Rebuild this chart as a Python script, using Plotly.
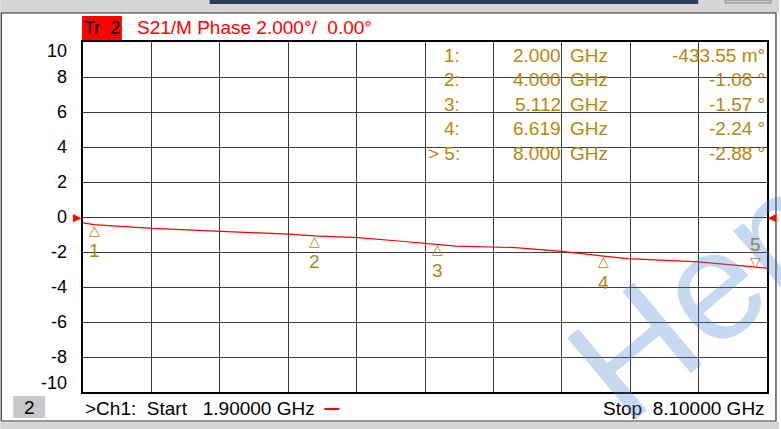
import plotly.graph_objects as go

# ---- data ----
freq_ghz = [1.9, 2.0, 2.53, 3.15, 3.76, 4.0, 4.39, 4.76, 5.112, 5.28, 5.82, 6.24, 6.619, 6.84, 7.48, 8.0, 8.1]
phase_deg = [-0.33, -0.43, -0.65, -0.80, -0.98, -1.08, -1.18, -1.37, -1.57, -1.66, -1.75, -1.96, -2.24, -2.38, -2.56, -2.88, -2.92]

marker_ids = ["1", "2", "3", "4", "5"]
marker_freq = [2.0, 4.0, 5.112, 6.619, 8.0]
marker_val = [-0.43355, -1.08, -1.57, -2.24, -2.88]
marker_freq_txt = ["2.000", "4.000", "5.112", "6.619", "8.000"]
marker_val_txt = ["-433.55 m°", "-1.08 °", "-1.57 °", "-2.24 °", "-2.88 °"]
marker_row_lbl = ["1:", "2:", "3:", "4:", "> 5:"]

y_ticks = [10, 8, 6, 4, 2, 0, -2, -4, -6, -8, -10]
x_start, x_stop = 1.9, 8.1

FONT = "Liberation Sans, Arial, sans-serif"
GOLD = "#b8860b"
RED = "#ff0000"
W, H = 781, 429
L, R, T, B = 83, 769, 42, 392


def px(x):
    return (x - L) / (R - L)


def py(y):
    return (B - y) / (B - T)


fig = go.Figure()
fig.add_trace(go.Scatter(x=freq_ghz, y=phase_deg, mode="lines",
                         line=dict(color=RED, width=1.2), hoverinfo="skip",
                         showlegend=False))

ann = []
# y tick labels
for v in y_ticks:
    ys = -9 if v == 10 else (9 if v == -10 else 0)
    ann.append(dict(xref="paper", x=0, xanchor="right", xshift=-14, yref="y", y=v,
                    yshift=ys, text=str(v), showarrow=False,
                    font=dict(family=FONT, size=18, color="#000000")))

# marker triangles + labels
for mid, f, v in zip(marker_ids, marker_freq, marker_val):
    if mid == "5":
        ann.append(dict(x=f, y=v, text="▽", showarrow=False, yshift=5, borderpad=0,
                        font=dict(family="DejaVu Sans", size=14, color=GOLD)))
        ann.append(dict(x=f, y=v, text=mid, showarrow=False, yshift=23, borderpad=0,
                        font=dict(family=FONT, size=19, color=GOLD)))
    else:
        ann.append(dict(x=f, y=v, text="△", showarrow=False, yshift=-5, borderpad=0,
                        font=dict(family="DejaVu Sans", size=14, color=GOLD)))
        ann.append(dict(x=f, y=v, text=mid, showarrow=False, yshift=-26, borderpad=0,
                        font=dict(family=FONT, size=19, color=GOLD)))

# reference arrows at 0
ann.append(dict(xref="paper", x=0, xanchor="right", xshift=1, y=0, text="▶",
                showarrow=False, font=dict(family="DejaVu Sans", size=11, color=RED)))
ann.append(dict(xref="paper", x=1, xanchor="left", xshift=-1, y=0, text="◀",
                showarrow=False, font=dict(family="DejaVu Sans", size=11, color=RED)))

# marker table
row_y0 = 55
row_dy = 24.5
for i in range(5):
    yy = py(row_y0 + i * row_dy)
    ann.append(dict(xref="paper", yref="paper", x=px(463), y=yy, xanchor="right",
                    yanchor="middle", text=marker_row_lbl[i], showarrow=False,
                    font=dict(family=FONT, size=19, color=GOLD)))
    ann.append(dict(xref="paper", yref="paper", x=px(564), y=yy, xanchor="right",
                    yanchor="middle", text=marker_freq_txt[i], showarrow=False,
                    font=dict(family=FONT, size=19, color=GOLD)))
    ann.append(dict(xref="paper", yref="paper", x=px(569), y=yy, xanchor="left",
                    yanchor="middle", text="GHz", showarrow=False,
                    font=dict(family=FONT, size=19, color=GOLD)))
    ann.append(dict(xref="paper", yref="paper", x=px(769), y=yy, xanchor="right",
                    yanchor="middle", text=marker_val_txt[i], showarrow=False,
                    font=dict(family=FONT, size=19, color=GOLD)))

# header
ann.append(dict(xref="paper", yref="paper", x=px(102), y=py(28), xanchor="center",
                yanchor="middle", text="Tr  2", showarrow=False,
                font=dict(family=FONT, size=18, color="#000000")))
ann.append(dict(xref="paper", yref="paper", x=px(135), y=py(28), xanchor="left",
                yanchor="middle", text="S21/M Phase 2.000°/  0.00°", showarrow=False,
                font=dict(family=FONT, size=19, color=RED)))

# footer
ann.append(dict(xref="paper", yref="paper", x=px(29), y=py(407), xanchor="center",
                yanchor="middle", text="2", showarrow=False,
                font=dict(family=FONT, size=19, color="#000000")))
ann.append(dict(xref="paper", yref="paper", x=px(83), y=py(409), xanchor="left",
                yanchor="middle", text=">Ch1:  Start   %.5f GHz" % x_start, showarrow=False,
                font=dict(family=FONT, size=19, color="#000000")))
ann.append(dict(xref="paper", yref="paper", x=px(769), y=py(409), xanchor="right",
                yanchor="middle", text="Stop  %.5f GHz" % x_stop, showarrow=False,
                font=dict(family=FONT, size=19, color="#000000")))

# watermark
ann.append(dict(xref="paper", yref="paper", x=px(702), y=py(295), xanchor="center",
                yanchor="middle", text="Hen", showarrow=False, textangle=-40,
                font=dict(family=FONT, size=155, color="rgba(70,130,205,0.30)")))

shapes = [
    # top gray strip
    dict(type="rect", xref="paper", yref="paper", x0=px(0), x1=px(W), y0=py(13), y1=py(0),
         fillcolor="#d6d6d6", line=dict(width=0), layer="below"),
    dict(type="rect", xref="paper", yref="paper", x0=px(210), x1=px(700), y0=py(4), y1=py(0),
         fillcolor="#2b3a57", line=dict(width=0), layer="below"),
    dict(type="rect", xref="paper", yref="paper", x0=px(727), x1=px(773), y0=py(3), y1=py(0),
         fillcolor="#c8c8c8", line=dict(color="#888888", width=1), layer="below"),
    # bottom gray strip
    dict(type="rect", xref="paper", yref="paper", x0=px(0), x1=px(W), y0=py(H), y1=py(422),
         fillcolor="#d6d6d6", line=dict(width=0), layer="below"),
    # panel border
    dict(type="rect", xref="paper", yref="paper", x0=px(1), x1=px(778), y0=py(421), y1=py(13),
         line=dict(color="#303030", width=1.2), layer="below"),
    # Tr 2 red box
    dict(type="rect", xref="paper", yref="paper", x0=px(82), x1=px(122), y0=py(41), y1=py(16),
         fillcolor=RED, line=dict(width=0), layer="below"),
    # footer "2" gray box
    dict(type="rect", xref="paper", yref="paper", x0=px(13), x1=px(45), y0=py(418), y1=py(396),
         fillcolor="#c8c8c8", line=dict(width=0), layer="below"),
    # red dash in footer
    dict(type="line", xref="paper", yref="paper", x0=px(325), x1=px(340), y0=py(409), y1=py(409),
         line=dict(color=RED, width=2)),
]

fig.update_layout(
    width=W, height=H,
    margin=dict(l=L, r=W - R, t=T, b=H - B, pad=0),
    paper_bgcolor="#ffffff", plot_bgcolor="#ffffff",
    showlegend=False,
    xaxis=dict(range=[x_start, x_stop], tick0=x_start, dtick=(x_stop - x_start) / 10,
               showgrid=True, gridcolor="#3c3c3c", gridwidth=1, showticklabels=False,
               ticks="", zeroline=False, showline=True, linecolor="#000000", linewidth=1.5,
               mirror=True, fixedrange=True),
    yaxis=dict(range=[-10, 10], tick0=-10, dtick=2, showgrid=True, gridcolor="#3c3c3c",
               gridwidth=1, showticklabels=False, ticks="", zeroline=False, showline=True,
               linecolor="#000000", linewidth=1.5, mirror=True, fixedrange=True),
    annotations=ann,
    shapes=shapes,
)

fig.write_html("out.html", config={"displayModeBar": False},
               post_script="document.body.style.margin='0';document.body.style.overflow='hidden';")
